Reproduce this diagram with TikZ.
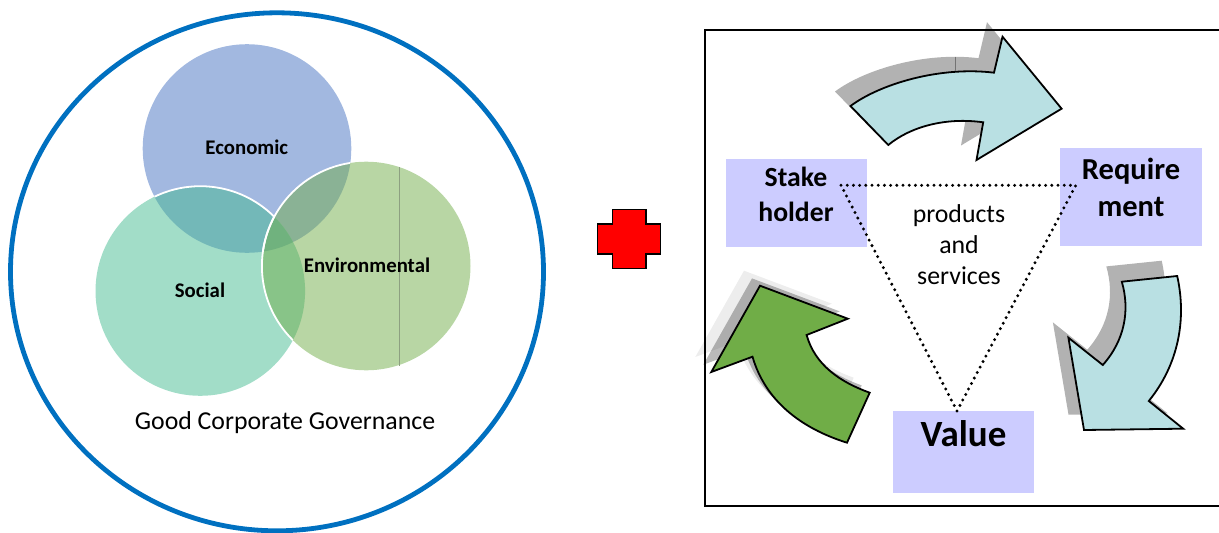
\documentclass[tikz,border=0pt]{standalone}
\usepackage{fontspec}
\setmainfont{Carlito}
\definecolor{econ}{HTML}{A2B8E0}
\definecolor{soc}{HTML}{A2DDC8}
\definecolor{envc}{HTML}{B8D6A4}
\definecolor{es}{HTML}{73B8B8}
\definecolor{ee}{HTML}{8AB295}
\definecolor{se}{HTML}{88C488}
\definecolor{ese}{HTML}{70B27E}
\definecolor{ringblue}{HTML}{0070C0}
\definecolor{lav}{HTML}{CCCCFF}
\definecolor{pale}{HTML}{B9E0E3}
\definecolor{leaf}{HTML}{70AD47}
\newcommand{\circE}{(247,148.5) circle[radius=104.3]}
\newcommand{\circS}{(200.3,291) circle[radius=104.8]}
\newcommand{\circV}{(366.2,266) circle[radius=104.3]}
\newcommand{\arrowA}{(850.5,106) .. controls (880,84) and (940,66) .. (994,72.7) -- (1002.5,36.7) -- (1061.6,108.7) -- (976.5,160) -- (983.2,122.3) .. controls (945,117) and (910,127) .. (888.3,145) -- cycle}
\newcommand{\arrowB}{(1121.8,281.7) -- (1177.2,276) .. controls (1187,320) and (1178,365) .. (1148.8,401) -- (1183.2,428.7) -- (1084,430) -- (1068.4,337.7) -- (1102.8,365) .. controls (1125,340) and (1130,310) .. (1121.8,281.7) -- cycle}
\newcommand{\arrowC}{(760,285.7) -- (847.8,318.7) -- (806.6,335) .. controls (815,365) and (840,382) .. (869.7,392.7) -- (847,442.7) .. controls (800,428) and (765,400) .. (752.5,356.7) -- (711.3,372) -- cycle}
\tikzset{
  boxlabel/.style={font=\bfseries\fontsize{27.7}{34}\selectfont,align=center,inner sep=0pt,text=black},
  venn/.style={font=\bfseries\fontsize{20.8}{24}\selectfont,inner sep=0pt,text=black},
  plainlabel/.style={inner sep=0pt,font=\fontsize{25.8}{30}\selectfont},
  lavbox/.style={fill=lav,draw=none,inner sep=0pt},
  arrowline/.style={draw=black,line width=1.8pt,line join=miter},
  dots/.style={line width=3.3pt,line cap=round,dash pattern=on 0pt off 6.2pt}
}
\begin{document}
\begin{tikzpicture}[x=1pt,y=-1pt]
\useasboundingbox (0,0) rectangle (1219,533);
% Venn
\draw[ringblue,line width=4.8pt] (277,271.8) ellipse[x radius=266.5,y radius=259];
\fill[econ] \circE;
\fill[soc] \circS;
\fill[envc] \circV;
\begin{scope}\clip \circE; \fill[es] \circS; \draw[white,line width=1.8pt] \circS; \end{scope}
\begin{scope}\clip \circE; \fill[ee] \circV; \end{scope}
\begin{scope}\clip \circS; \fill[se] \circV; \end{scope}
\begin{scope}\clip \circE; \clip \circS; \fill[ese] \circV; \end{scope}
\begin{scope}\clip \circE; \draw[white,line width=1.8pt] \circV; \end{scope}
\begin{scope}\clip \circS; \draw[white,line width=1.8pt] \circV; \end{scope}
\coordinate (lineTop) at (399.3,167);
\coordinate (lineBot) at (399.3,365.6);
\draw[color=envc!70!black!90,line width=.7pt] (lineTop) -- (lineBot);
\node[venn] (economic) at (246.8,147.5) {Economic};
\node[venn] (social) at (200,290.5) {Social};
\node[venn] (environmental) at (367,265) {Environmental};
\node[plainlabel] (gcg) at (285,423) {Good Corporate Governance};
% cross
\draw[fill=red,draw=black,line width=1.5pt] (612.3,209.7) -- (646,209.7) -- (646,224) -- (660.5,224) -- (660.5,254) -- (646,254) -- (646,268.3) -- (612.3,268.3) -- (612.3,254) -- (597.7,254) -- (597.7,224) -- (612.3,224) -- cycle;
% frame
\draw[black,line width=2.4pt] (1225,30) -- (705,30) -- (705,506) -- (1225,506);
% boxes
\node[lavbox,minimum width=141.3pt,minimum height=88pt] (stakeBox) at (796.75,203) {};
\node[lavbox,minimum width=141.2pt,minimum height=98pt] (reqBox) at (1131,197) {};
\node[lavbox,minimum width=141.2pt,minimum height=82pt] (valBox) at (963.8,452) {};
\node[boxlabel] (stake) at (796,177) {Stake};
\node[boxlabel] (holder) at (796,212) {holder};
\node[boxlabel,font=\bfseries\fontsize{30.5}{34}\selectfont] (require) at (1131,171) {Require};
\node[boxlabel,font=\bfseries\fontsize{30.5}{34}\selectfont] (ment) at (1131,207) {ment};
\node[boxlabel,font=\bfseries\fontsize{37}{40}\selectfont] (value) at (963.5,434) {Value};
% triangle
\coordinate (triA) at (841,185.3);
\coordinate (triB) at (1075.8,185.3);
\coordinate (triC) at (957,411);
\draw[dots] (triA) -- (triB) -- (triC) -- cycle;
\node[plainlabel] (products) at (959,215.5) {products};
\node[plainlabel] (and) at (959,245) {and};
\node[plainlabel] (services) at (959,276) {services};
% arrows
\fill[black,opacity=.3,shift={(-15.5,-14.5)}] \arrowA;
\draw[arrowline,fill=pale] \arrowA;
\coordinate (tickTop) at (955,56.7);
\coordinate (tickBot) at (955,71);
\draw[black!55,line width=.6pt] (tickTop) -- (tickBot);
\fill[black,opacity=.3,shift={(-15.5,-15.3)}] \arrowB;
\draw[arrowline,fill=pale] \arrowB;
\fill[black,opacity=.07,shift={(-16,-15)}] \arrowC;
\fill[black,opacity=.27,shift={(-8,-7.3)}] \arrowC;
\draw[arrowline,fill=leaf] \arrowC;
\end{tikzpicture}
\end{document}
